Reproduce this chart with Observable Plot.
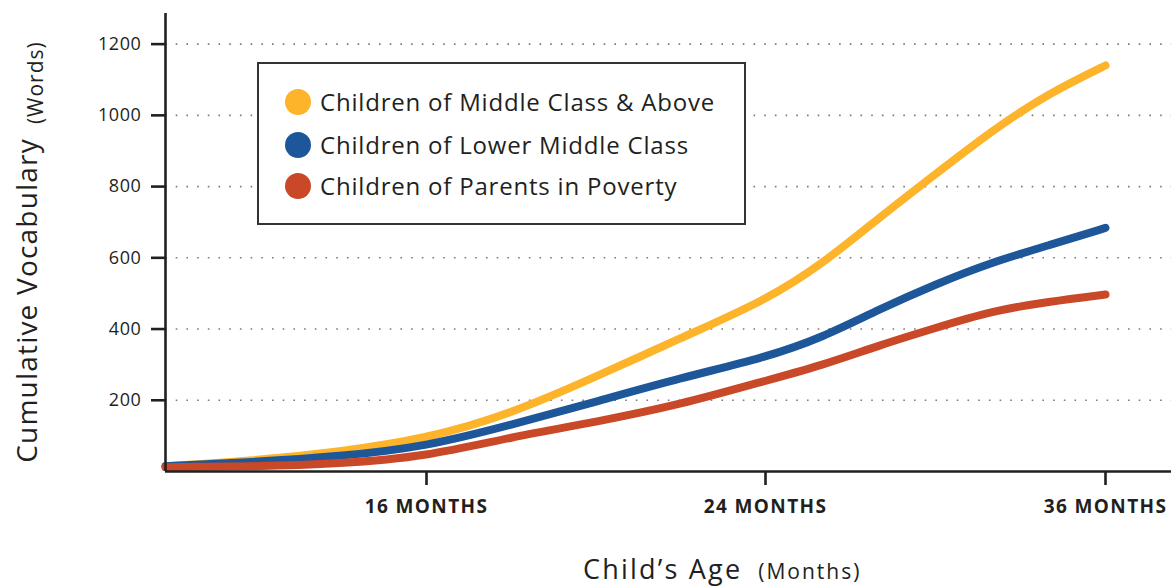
<!DOCTYPE html>
<html>
<head>
<meta charset="utf-8">
<script src="https://cdn.jsdelivr.net/npm/d3@7"></script>
<script src="https://cdn.jsdelivr.net/npm/@observablehq/plot@0.6"></script>
<style>
  html, body { margin: 0; padding: 0; background: #fff; }
  #wrap { position: relative; width: 1171px; height: 588px; font-family: "Open Sans", sans-serif; color: #231f20; overflow: hidden; }
  #wrap svg { position: absolute; left: 0; top: 0; }
  svg [aria-label="y-axis tick label"] text { letter-spacing: 0.6px; }
  svg [aria-label="x-axis tick label"] text { letter-spacing: 1.4px; }
  .ytitle { position: absolute; left: 26px; top: 252px; transform: translate(-50%, -50%) rotate(-90deg); white-space: nowrap; line-height: 1; }
  .ytitle .main { font-size: 28px; letter-spacing: 1.2px; }
  .ytitle .paren { font-size: 21px; letter-spacing: 1px; margin-left: 14px; position: relative; top: 6px; }
  .xtitle { position: absolute; left: 583px; top: 555px; white-space: nowrap; line-height: 1; }
  .xtitle .main { font-size: 27px; letter-spacing: 2.2px; }
  .xtitle .paren { font-size: 21px; letter-spacing: 2px; margin-left: 16px; }
  .legend-box { position: absolute; left: 257px; top: 62px; width: 489px; height: 163px; border: 2px solid #333; box-sizing: border-box; background: #fff; }
  .legend-row { position: absolute; left: 285px; height: 26px; display: flex; align-items: center; white-space: nowrap; }
  .legend-row .sw { width: 26px; height: 26px; border-radius: 50%; margin-right: 9px; flex: none; }
  .legend-row .lb { font-size: 24px; line-height: 26px; letter-spacing: 0.8px; }
</style>
</head>
<body>
<div id="wrap"></div>
<script>
// ---- data ----
const seriesNames = [
  "Children of Middle Class & Above",
  "Children of Lower Middle Class",
  "Children of Parents in Poverty"
];
const seriesColors = ["#FDB32A", "#1D5799", "#C94827"];
const months = [10, 12, 14, 16, 18, 20, 22, 24, 26, 28, 30, 32, 34, 36];
const middleClass  = [15, 30, 55, 92, 162, 266, 375, 480, 582, 712, 835, 958, 1062, 1140];
const lowerMiddle  = [15, 26, 42, 70, 131, 196, 263, 320, 376, 455, 526, 588, 635, 684];
const poverty      = [12, 14, 22, 42,  97, 139, 188, 255, 298, 354, 403, 451, 477, 497];
const yTicks = [200, 400, 600, 800, 1000, 1200];
const xTicks = [16, 24, 36];
const xTickLabel = "MONTHS";
const yTitle = "Cumulative Vocabulary", yTitleUnit = "(Words)";
const xTitle = "Child\u2019s Age", xTitleUnit = "(Months)";

const seriesValues = [middleClass, lowerMiddle, poverty];
const data = seriesNames.flatMap((name, i) =>
  months.map((m, j) => ({series: name, month: m, words: seriesValues[i][j]})));

const W = 1171, H = 588;
const chart = Plot.plot({
  width: W, height: H,
  marginLeft: 165, marginRight: 0, marginTop: 13, marginBottom: 117,
  x: {type: "linear", domain: [10, 16, 24, 36, 38.33], range: [165, 426, 765, 1105, 1171]},
  y: {domain: [0, 1286]},
  color: {domain: seriesNames, range: seriesColors},
  style: {fontFamily: "'Open Sans', sans-serif", color: "#231f20", background: "transparent", overflow: "visible"},
  marks: [
    Plot.ruleY(yTicks, {stroke: "#7a7a7a", strokeWidth: 1.6, strokeDasharray: "1.6 9.1"}),
    Plot.axisY({ticks: yTicks, tickSize: 14, tickPadding: 10, fontSize: 18, fontWeight: 500, strokeWidth: 2.6, label: null, tickFormat: d => String(d)}),
    Plot.axisX({ticks: xTicks, tickSize: 14, tickPadding: 14, fontSize: 19, fontWeight: 700, strokeWidth: 2.6, label: null, tickFormat: d => `${d} ${xTickLabel}`}),
    Plot.line(data, {x: "month", y: "words", z: "series", stroke: "series", strokeWidth: 8, strokeLinecap: "round", strokeLinejoin: "round", curve: "basis"}),
    Plot.ruleY([0], {stroke: "#231f20", strokeWidth: 2.6}),
    Plot.ruleX([10], {stroke: "#231f20", strokeWidth: 2.6})
  ]
});

const wrap = document.getElementById("wrap");
wrap.appendChild(chart);

// axis titles
const yt = document.createElement("div");
yt.className = "ytitle";
yt.innerHTML = `<span class="main">${yTitle}</span><span class="paren">${yTitleUnit}</span>`;
wrap.appendChild(yt);
const xt = document.createElement("div");
xt.className = "xtitle";
xt.innerHTML = `<span class="main">${xTitle}</span><span class="paren">${xTitleUnit}</span>`;
wrap.appendChild(xt);

// legend
const box = document.createElement("div");
box.className = "legend-box";
wrap.appendChild(box);
const rowCenters = [102, 145, 186];
seriesNames.forEach((name, i) => {
  const row = document.createElement("div");
  row.className = "legend-row";
  row.style.top = (rowCenters[i] - 13) + "px";
  row.innerHTML = `<span class="sw" style="background:${seriesColors[i]}"></span><span class="lb">${name}</span>`;
  wrap.appendChild(row);
});
</script>
</body>
</html>
